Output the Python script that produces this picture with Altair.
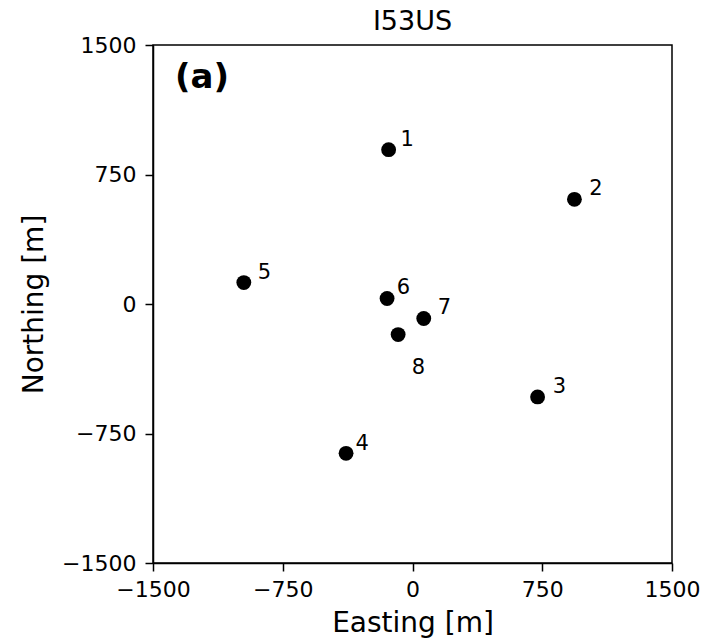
import altair as alt
import pandas as pd

station = ["1", "2", "3", "4", "5", "6", "7", "8"]
easting = [-138, 936, 723, -384, -975, -147, 65, -83]
northing = [894, 606, -538, -865, 124, 32, -84, -177]
label_e = [-30, 1061, 849, -291, -856, -53, 184, 34]
label_n = [952, 668, -483, -811, 177, 90, -25, -373]
ticks = [-1500, -750, 0, 750, 1500]

df = pd.DataFrame({"station": station, "e": easting, "n": northing,
                   "le": label_e, "ln": label_n})

font = "DejaVu Sans"
xs = alt.Scale(domain=[-1500, 1500], nice=False, zero=False)
ys = alt.Scale(domain=[-1500, 1500], nice=False, zero=False)

pts = alt.Chart(df).mark_circle(size=220, color="black", opacity=1).encode(
    x=alt.X("e:Q", scale=xs, axis=alt.Axis(
        values=ticks, title="Easting [m]", grid=False, tickSize=8, tickColor="black",
        domainColor="black", labelColor="black", labelFont=font, labelFontSize=22,
        labelPadding=8, titleFont=font, titleFontSize=28, titleFontWeight="normal",
        titleColor="black", titlePadding=9, labelFlush=False, format="d")),
    y=alt.Y("n:Q", scale=ys, axis=alt.Axis(
        values=ticks, title="Northing [m]", grid=False, tickSize=8, tickColor="black",
        domainColor="black", labelColor="black", labelFont=font, labelFontSize=22,
        labelPadding=9, titleFont=font, titleFontSize=28, titleFontWeight="normal",
        titleColor="black", titlePadding=13, labelFlush=False, format="d")),
)

labels = alt.Chart(df).mark_text(font=font, fontSize=21, color="black",
                                 align="center", baseline="middle").encode(
    x=alt.X("le:Q", scale=xs),
    y=alt.Y("ln:Q", scale=ys),
    text="station:N",
)

panel = alt.Chart(pd.DataFrame({"t": ["(a)"]})).mark_text(
    font=font, fontSize=34, fontWeight="bold", color="black",
    align="left", baseline="middle").encode(
    x=alt.value(22), y=alt.value(33), text="t:N")

chart = alt.layer(pts, labels, panel).properties(
    width=519, height=518,
    title=alt.TitleParams("I53US", font=font, fontSize=27, fontWeight="normal",
                          color="black", offset=0, dy=2),
    autosize=alt.AutoSizeParams(type="none"),
    padding={"left": 153, "top": 45, "right": 36, "bottom": 75},
).configure_view(stroke="black", strokeWidth=1.5).configure_axis(domainWidth=1.5, tickWidth=1.5)

chart.save("out.html", embed_options={"renderer": "svg", "actions": False})
